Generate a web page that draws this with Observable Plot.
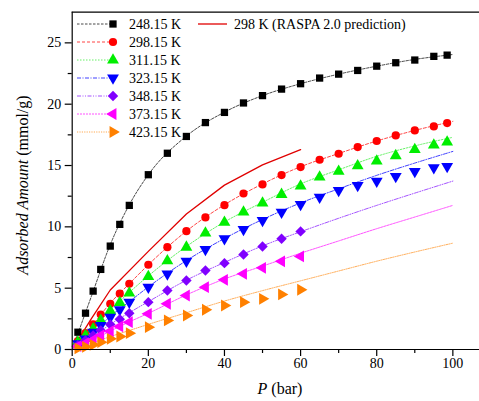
<!DOCTYPE html>
<html>
<head>
<meta charset="utf-8">
<script src="https://cdn.jsdelivr.net/npm/d3@7"></script>
<script src="https://cdn.jsdelivr.net/npm/@observablehq/plot@0.6"></script>
<style>
  body { margin: 0; background: #fff; }
  svg { display: block; }
</style>
</head>
<body>
<div id="chart"></div>
<script>
// Measured pressures (bar)
const pressure = [1.5, 3.5, 5.5, 7.5, 10, 12.5, 15, 20, 25, 30, 35, 40, 45, 50, 55, 60, 65, 70, 75, 80, 85, 90, 95, 98.5];

// Measured adsorbed amounts (mmol/g) per temperature
const k248 = [1.41, 2.96, 4.76, 6.53, 8.43, 10.2, 11.75, 14.25, 16.0, 17.37, 18.5, 19.33, 20.1, 20.7, 21.23, 21.67, 22.13, 22.45, 22.75, 23.1, 23.38, 23.6, 23.9, 24.0];
const k298 = [0.68, 1.33, 2.06, 2.85, 3.73, 4.55, 5.36, 6.91, 8.34, 9.65, 10.77, 11.77, 12.72, 13.46, 14.22, 14.87, 15.47, 15.96, 16.5, 17.0, 17.45, 17.86, 18.19, 18.46];
const k311 = [0.6, 1.14, 1.69, 2.37, 3.15, 3.83, 4.6, 5.95, 7.23, 8.34, 9.49, 10.36, 11.2, 11.93, 12.64, 13.32, 14.05, 14.52, 14.98, 15.36, 15.8, 16.29, 16.66, 16.91];
const k323 = [0.47, 0.87, 1.41, 1.96, 2.64, 3.24, 3.86, 5.08, 6.17, 7.2, 8.16, 9.03, 9.79, 10.52, 11.2, 11.83, 12.42, 12.97, 13.38, 13.73, 14.11, 14.52, 14.82, 14.93];
const k348 = [0.35, 0.73, 1.14, 1.55, 2.04, 2.47, 2.96, 3.86, 4.81, 5.63, 6.44, 7.04, 7.75, 8.4, 9.03, 9.63];
const k373 = [0.27, 0.51, 0.79, 1.14, 1.49, 1.88, 2.23, 2.91, 3.73, 4.4, 5.08, 5.68, 6.17, 6.66, 7.19, 7.59];
const k423 = [0.09, 0.22, 0.38, 0.6, 0.87, 1.06, 1.33, 1.82, 2.37, 2.77, 3.24, 3.59, 3.86, 4.13, 4.49, 4.87];

// Fitted isotherm curves, sampled at these pressures
const fitP = [0, 5, 10, 15, 20, 30, 40, 50, 60, 70, 80, 90, 100];
const fit248 = [0, 4.3, 8.55, 11.8, 14.25, 17.4, 19.35, 20.7, 21.67, 22.45, 23.1, 23.65, 24.05];
const fit298 = [0, 1.85, 3.78, 5.36, 6.91, 9.65, 11.8, 13.5, 14.9, 15.98, 17.0, 17.86, 18.6];
const fit311 = [0, 1.55, 3.2, 4.65, 6.0, 8.4, 10.4, 12.0, 13.5, 14.65, 15.75, 16.6, 17.3];
const fit323 = [0, 1.25, 2.7, 3.9, 5.1, 7.25, 9.05, 10.6, 11.95, 13.1, 14.2, 15.2, 16.15];
const fit348 = [0, 0.95, 2.05, 3.0, 3.9, 5.65, 7.1, 8.45, 9.6, 10.7, 11.75, 12.75, 13.73];
const fit373 = [0, 0.7, 1.5, 2.25, 2.95, 4.45, 5.75, 6.8, 7.85, 8.85, 9.85, 10.8, 11.75];
const fit423 = [0, 0.5, 1.05, 1.55, 2.05, 3.0, 3.95, 4.8, 5.6, 6.4, 7.2, 7.95, 8.67];

// Simulated isotherm at 298 K
const raspaP = [1, 5, 10, 20, 30, 40, 50, 60];
const raspa = [0.5, 2.5, 4.85, 8.0, 11.05, 13.4, 15.05, 16.3];

// Axis ticks
const xMajor = [0, 20, 40, 60, 80, 100];
const xMinor = [10, 30, 50, 70, 90];
const yMajor = [0, 5, 10, 15, 20, 25];
const yMinor = [2.5, 7.5, 12.5, 17.5, 22.5];

const labels = ["248.15 K", "298.15 K", "311.15 K", "323.15 K", "348.15 K", "373.15 K", "423.15 K"];
const raspaLabel = "298 K (RASPA 2.0 prediction)";

const series = [
  {name: labels[0], values: k248, fit: fit248, color: "#000000", line: "#333333", symbol: "square",   rotate: 0,   r: 4.1, dash: "2.5,1.5"},
  {name: labels[1], values: k298, fit: fit298, color: "#ff0000", line: "#ff3030", symbol: "circle",   rotate: 0,   r: 4.1, dash: "3,2"},
  {name: labels[2], values: k311, fit: fit311, color: "#00ee00", line: "#55ee55", symbol: "triangle", rotate: 0,   r: 4.4, dash: "1.5,1.5"},
  {name: labels[3], values: k323, fit: fit323, color: "#0000ff", line: "#2a2aff", symbol: "triangle", rotate: 180, r: 4.4, dash: "4,1.5,1,1.5"},
  {name: labels[4], values: k348, fit: fit348, color: "#8000ff", line: "#9a40ff", symbol: "diamond2", rotate: 0,   r: 4.7, dash: "4,1.5,1,1.5,1,1.5"},
  {name: labels[5], values: k373, fit: fit373, color: "#ff00ff", line: "#ff40ff", symbol: "triangle", rotate: -90, r: 4.4, dash: "2,1"},
  {name: labels[6], values: k423, fit: fit423, color: "#ff8000", line: "#ffa040", symbol: "triangle", rotate: 90,  r: 4.4, dash: "1.2,1.2"}
];

const pointsOf = s => s.values.map((q, i) => ({P: pressure[i], q}));
const fitOf = s => s.fit.map((q, i) => ({P: fitP[i], q}));
const raspaRows = raspa.map((q, i) => ({P: raspaP[i], q}));

const serif = "'Liberation Serif', 'Times New Roman', Times, 'DejaVu Serif', serif";

const plot = Plot.plot({
  width: 479,
  height: 401,
  marginLeft: 71.7,
  marginRight: 0,
  marginTop: 11.7,
  marginBottom: 52,
  x: {domain: [0, 107]},
  y: {domain: [0, 27.5]},
  style: {fontFamily: serif, fontSize: "14px", color: "#000", background: "#fff"},
  marks: [
    // fitted curves (thin dashed) under the measured points
    ...series.map(s => Plot.line(fitOf(s), {x: "P", y: "q", stroke: s.line, strokeWidth: 0.9, strokeDasharray: s.dash, curve: "monotone-x"})),
    // simulation, solid red
    Plot.line(raspaRows, {x: "P", y: "q", stroke: "#e00000", strokeWidth: 1.3}),
    // measured points
    ...series.map(s => Plot.dot(pointsOf(s), {x: "P", y: "q", fill: s.color, symbol: s.symbol, rotate: s.rotate, r: s.r})),
    // frame lines: bottom, top, left
    Plot.ruleY([0], {strokeWidth: 1.2}),
    Plot.ruleY([27.5], {strokeWidth: 1.2}),
    Plot.ruleX([0], {strokeWidth: 1.2}),
    Plot.axisX({ticks: xMajor, tickSize: 7, tickPadding: 2, label: null, fontSize: 14, strokeWidth: 1.2}),
    Plot.axisX({ticks: xMinor, tickSize: 4, tickFormat: () => "", label: null, strokeWidth: 1.2}),
    Plot.axisY({ticks: yMajor, tickSize: 7, tickPadding: 4, label: null, fontSize: 14, strokeWidth: 1.2}),
    Plot.axisY({ticks: yMinor, tickSize: 4, tickFormat: () => "", label: null, strokeWidth: 1.2})
  ]
});

const svg = d3.select(plot);

// Legend
const symbolType = {square: d3.symbolSquare, circle: d3.symbolCircle, triangle: d3.symbolTriangle, diamond2: d3.symbolDiamond2};
const legend = svg.append("g")
  .attr("font-family", serif).attr("font-size", 14).attr("text-anchor", "start");
series.forEach((s, i) => {
  const y = 24 + 18 * i;
  legend.append("line").attr("x1", 77).attr("x2", 112).attr("y1", y).attr("y2", y)
    .attr("stroke", s.line).attr("stroke-width", 0.9).attr("stroke-dasharray", s.dash);
  legend.append("path")
    .attr("d", d3.symbol(symbolType[s.symbol], Math.PI * s.r * s.r)())
    .attr("transform", `translate(113,${y}) rotate(${s.rotate})`)
    .attr("fill", s.color);
  legend.append("text").attr("x", 129).attr("y", y).attr("dy", "0.35em").text(s.name);
});
legend.append("line").attr("x1", 198).attr("x2", 227).attr("y1", 24).attr("y2", 24)
  .attr("stroke", "#e00000").attr("stroke-width", 1.3);
legend.append("text").attr("x", 234).attr("y", 24).attr("dy", "0.35em").text(raspaLabel);

// Axis titles
const xt = svg.append("text").attr("x", 280).attr("y", 388).attr("dy", "0.35em")
  .attr("text-anchor", "middle").attr("font-family", serif).attr("font-size", 16);
xt.append("tspan").attr("font-style", "italic").text("P");
xt.append("tspan").text(" (bar)");

const yt = svg.append("text").attr("transform", "translate(22,185) rotate(-90)").attr("dy", "0.35em")
  .attr("text-anchor", "middle").attr("font-family", serif).attr("font-size", 16);
yt.append("tspan").attr("font-style", "italic").text("Adsorbed Amount");
yt.append("tspan").text(" (mmol/g)");

document.getElementById("chart").appendChild(plot);
</script>
</body>
</html>
